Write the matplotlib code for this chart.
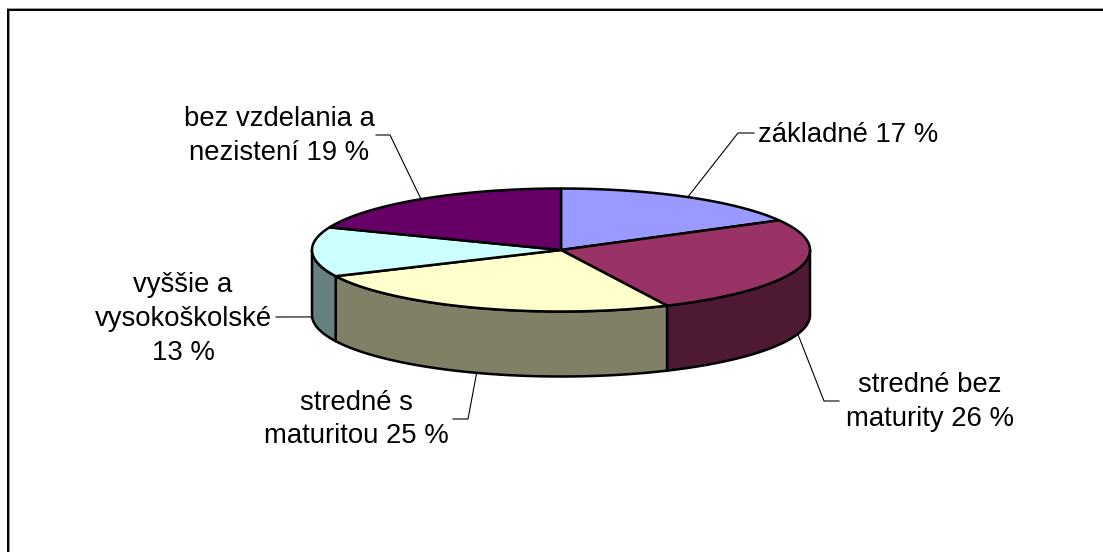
import numpy as np
import matplotlib
matplotlib.use('Agg')
import matplotlib.pyplot as plt
from matplotlib.patches import Polygon

labels = ['základné 17 %', 'stredné bez\nmaturity 26 %', 'stredné s\nmaturitou 25 %',
          'vyššie a\nvysokoškolské\n13 %', 'bez vzdelania a\nnezistení 19 %']
values = [17, 26, 25, 13, 19]
top_colors = ['#9999FF', '#993366', '#FFFFCC', '#CCFFFF', '#660066']
side_colors = ['#4D4D80', '#4D1933', '#808066', '#668080', '#330033']

# pie geometry in pixels
cx, cy = 561, 250
rx, ry = 249, 61.5
depth = 65
edge = 2.5 * 72 / 100

# label centres and leader knee points, same order as the slices
label_pos = [(848.5, 135.5), (930, 402), (356, 419.5), (183, 319), (279, 136)]
knees = [[(738, 133), (754, 133)],
         [(824, 401), (839, 401)],
         [(468, 419), (453, 419)],
         [(276, 317)],
         [(390, 135), (376, 135)]]


def rim(t, drop=0):
    # t in degrees, clockwise from 12 o'clock
    t = np.radians(t)
    return np.column_stack((cx + rx * np.sin(t), cy - ry * np.cos(t) + drop))


plt.rcParams['font.family'] = ['Liberation Sans', 'DejaVu Sans']
fig = plt.figure(figsize=(11.03, 5.52), dpi=100)
ax = fig.add_axes([0, 0, 1, 1])
ax.set_xlim(0, 1103)
ax.set_ylim(552, 0)
ax.axis('off')

# chart frame, only top and left are inside the picture
ax.plot([9.5, 9.5], [11, 552], color='#999999', lw=0.72, solid_capstyle='butt', snap=False)
ax.plot([7, 1103], [8.5, 8.5], color='#999999', lw=0.72, solid_capstyle='butt', snap=False)
ax.plot([8, 8], [9, 552], color='black', lw=1.44, solid_capstyle='butt', snap=False)
ax.plot([7, 1103], [10, 10], color='black', lw=1.44, solid_capstyle='butt', snap=False)

angles = np.concatenate(([0], np.cumsum(values))) * 360.0 / sum(values)

# sides first, only the front half can be seen
for i in range(len(values)):
    a = max(angles[i], 90)
    b = min(angles[i + 1], 270)
    if a >= b:
        continue
    t = np.linspace(a, b, 80)
    pts = np.vstack((rim(t), rim(t[::-1], depth)))
    ax.add_patch(Polygon(pts, closed=True, fc=side_colors[i], ec='black', lw=edge,
                         joinstyle='round', zorder=2))

# top of the pie
for i in range(len(values)):
    t = np.linspace(angles[i], angles[i + 1], 120)
    pts = np.vstack(([[cx, cy]], rim(t)))
    ax.add_patch(Polygon(pts, closed=True, fc=top_colors[i], ec='black', lw=edge,
                         joinstyle='round', zorder=3))

# leaders start on the rim at the middle of each slice
for i in range(len(values)):
    mid = (angles[i] + angles[i + 1]) / 2
    drop = depth if 90 < mid < 270 else 0
    start = rim(np.array([mid]), drop)[0]
    xs = [start[0]] + [p[0] for p in knees[i]]
    ys = [start[1]] + [p[1] for p in knees[i]]
    ax.plot(xs, ys, color='black', lw=0.8, zorder=1)
    ax.text(label_pos[i][0], label_pos[i][1], labels[i], ha='center', va='center',
            multialignment='center', fontsize=19.8, linespacing=1.38, color='black')

fig.savefig('out.png', dpi=100, facecolor='white')
